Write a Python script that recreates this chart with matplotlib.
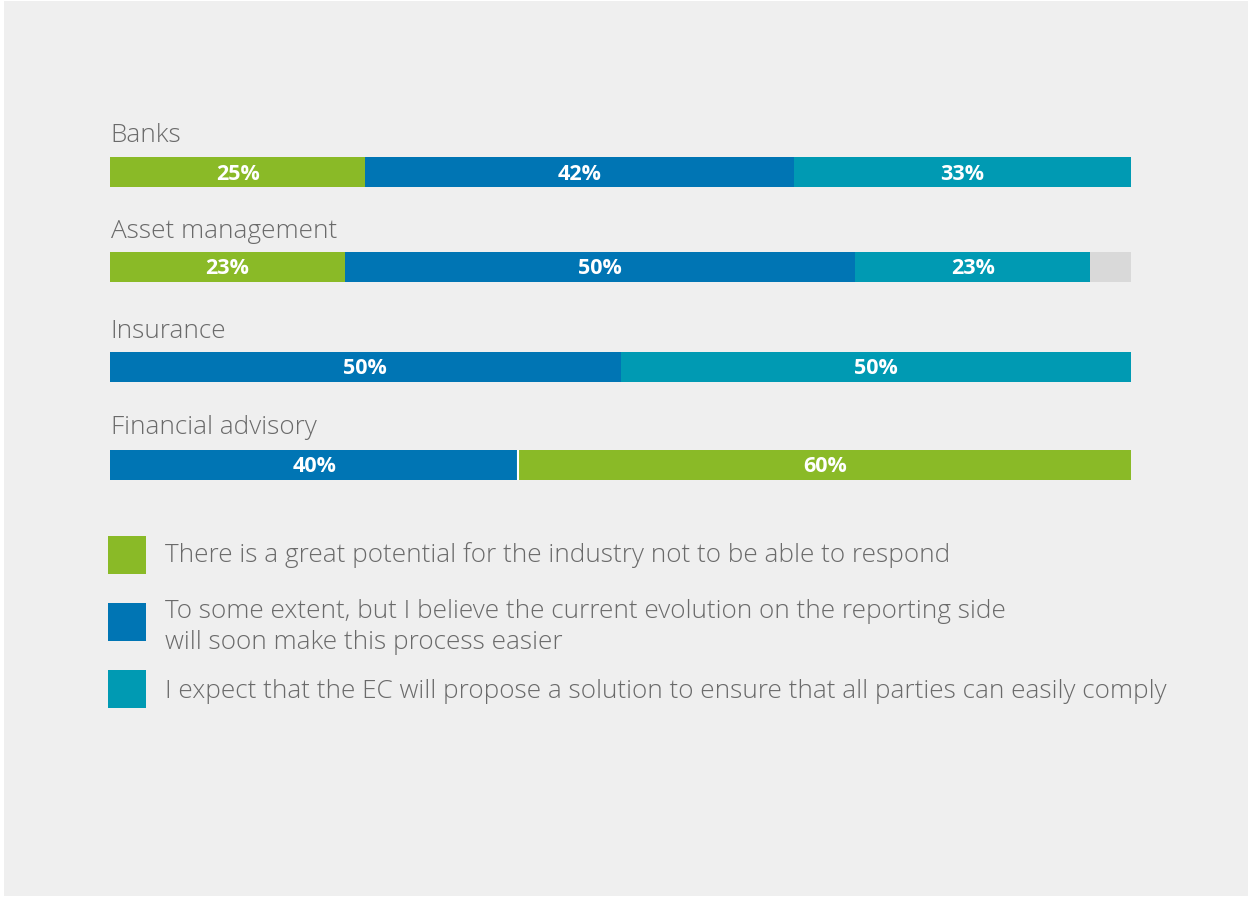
import matplotlib
matplotlib.use("Agg")
import matplotlib.pyplot as plt
from matplotlib.patches import Rectangle

# ---- data ----
categories = ["Banks", "Asset management", "Insurance", "Financial advisory"]
segment_values = [
    [25, 42, 33],
    [23, 50, 23],
    [50, 50],
    [40, 60],
]
segment_series = [
    ["great", "some", "ec"],
    ["great", "some", "ec"],
    ["some", "ec"],
    ["some", "great"],
]
legend_labels = [
    "There is a great potential for the industry not to be able to respond",
    "To some extent, but I believe the current evolution on the reporting side\nwill soon make this process easier",
    "I expect that the EC will propose a solution to ensure that all parties can easily comply",
]
legend_keys = ["great", "some", "ec"]

# ---- style ----
colors = {"great": "#8aba27", "some": "#0075b4", "ec": "#009ab3"}
rest_color = "#d9d9d9"
bg = "#efefef"
text_gray = "#6a6a6a"
FONT = "Open Sans"

W, H = 1250, 898
fig = plt.figure(figsize=(W / 100, H / 100), dpi=100, facecolor="white")
ax = fig.add_axes([0, 0, 1, 1])
x0_px, x1_px = 110, 1131
scale = (x1_px - x0_px) / 100.0
ax.set_xlim(-x0_px / scale, (W - x0_px) / scale)
ax.set_ylim(H, 0)
ax.axis("off")

# background panel
ax.add_patch(Rectangle((-x0_px / scale + 4 / scale, 1), (W - 6) / scale, H - 3,
                       facecolor=bg, edgecolor="none", zorder=0))

bar_centers = [172, 267, 367, 465]
label_y = [136, 231, 331, 428]
bar_h = 30

for i, cat in enumerate(categories):
    ax.text(0.05, label_y[i], cat, fontsize=18.8, color=text_gray, family=FONT,
            fontweight="light", ha="left", va="center")
    left = 0
    vals = segment_values[i]
    for j, (v, key) in enumerate(zip(vals, segment_series[i])):
        ax.barh(bar_centers[i], v, left=left, height=bar_h, color=colors[key],
                linewidth=0, zorder=2)
        ax.text(left + v / 2, bar_centers[i] + 2, f"{v}%", color="white",
                fontsize=15.5, fontweight="bold", family=FONT,
                ha="center", va="center", zorder=3)
        if i == 3 and j > 0:
            ax.vlines(left, bar_centers[i] - bar_h / 2, bar_centers[i] + bar_h / 2,
                      color="white", linewidth=1.5, zorder=3)
        left += v
    if left < 100:
        ax.barh(bar_centers[i], 100 - left, left=left, height=bar_h,
                color=rest_color, linewidth=0, zorder=2)

# legend
sq_px = 38
sq_tops = [536, 603, 670]
text_y = [555, 627, 692]
for key, lab, top, ty in zip(legend_keys, legend_labels, sq_tops, text_y):
    ax.add_patch(Rectangle(((108 - x0_px) / scale, top), sq_px / scale, sq_px,
                           facecolor=colors[key], edgecolor="none", zorder=2))
    ax.text((165 - x0_px) / scale, ty, lab, fontsize=18.8, color=text_gray,
            family=FONT, fontweight="light", ha="left", va="center",
            linespacing=1.3)

fig.savefig("out.png", dpi=100, facecolor="white")
